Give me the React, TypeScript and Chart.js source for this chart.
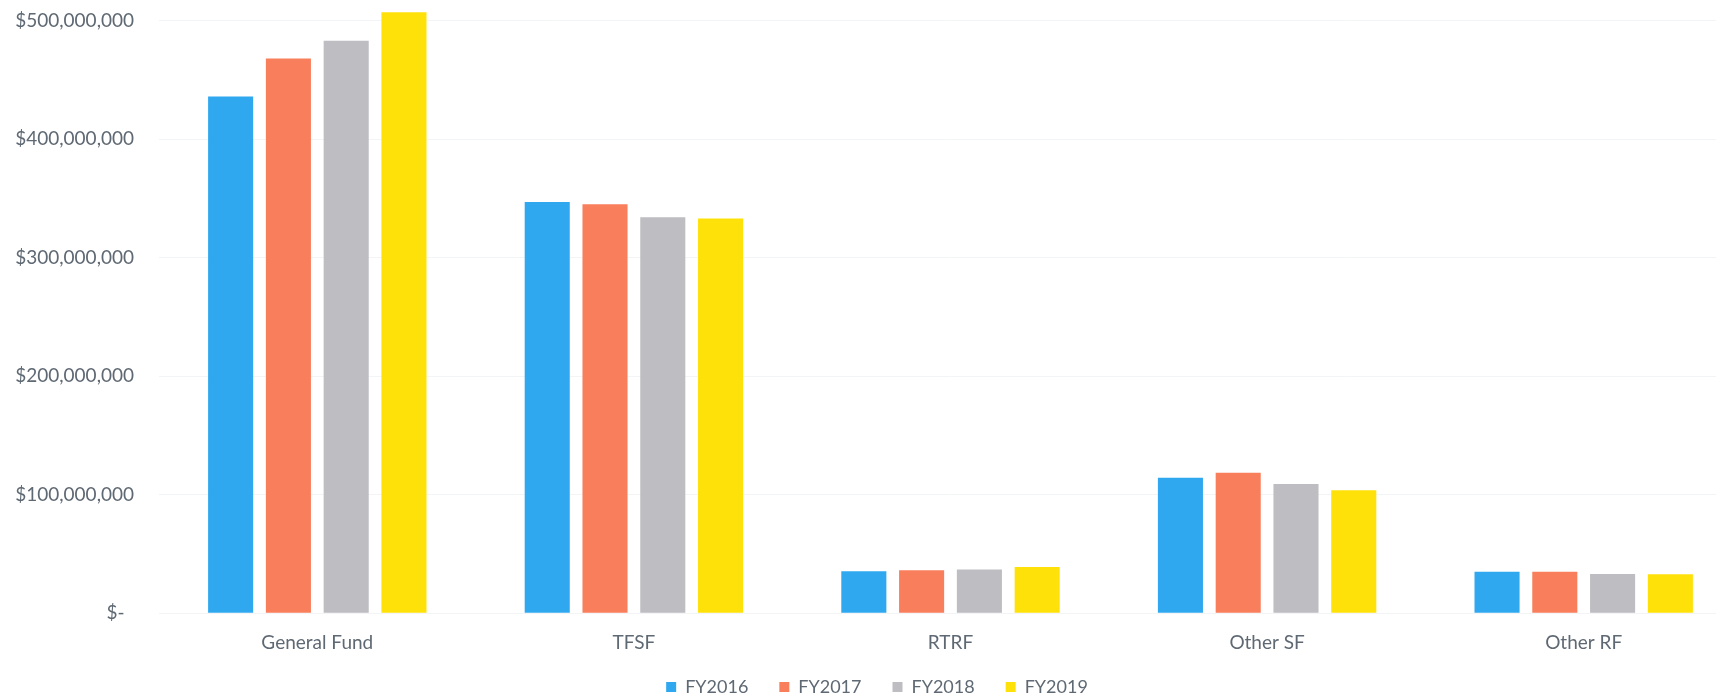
import React, { useEffect, useRef } from "react";
import { Chart, registerables } from "chart.js";

Chart.register(...registerables);

const categories = ["General Fund", "TFSF", "RTRF", "Other SF", "Other RF"];
const seriesNames = ["FY2016", "FY2017", "FY2018", "FY2019"];
const fy2016 = [436000000, 347000000, 35400000, 114200000, 34900000];
const fy2017 = [468000000, 345000000, 36300000, 118400000, 34900000];
const fy2018 = [483000000, 334000000, 36900000, 108900000, 33000000];
const fy2019 = [507000000, 333000000, 39000000, 103800000, 32900000];
const seriesColors = ["#2fa8f0", "#f97f5c", "#bdbdc2", "#ffe10a"];
const yTickMax = 600000000;
const yTickStep = 100000000;

const TEXT = "#5f6973";
const FONT = "Lato";

function fmt(v: number): string {
  if (v === 0) return "$-\u2002";
  return "$" + v.toLocaleString("en-US");
}

const legendShift = {
  id: "legendShift",
  afterLayout(chart: any) {
    const lg = chart.legend;
    if (!lg) return;
    lg.left += 6;
    lg.right += 6;
    lg.top -= 25;
    lg.bottom -= 25;
  },
};

export default function App() {
  const ref = useRef<HTMLCanvasElement | null>(null);

  useEffect(() => {
    document.body.style.margin = "0";
    const canvas = ref.current;
    if (!canvas) return;
    const allSeries = [fy2016, fy2017, fy2018, fy2019];
    const chart = new Chart(canvas, {
      type: "bar",
      data: {
        labels: categories,
        datasets: allSeries.map((d, i) => ({
          label: seriesNames[i],
          data: d,
          backgroundColor: seriesColors[i],
          borderWidth: 0,
          categoryPercentage: 0.73,
          barPercentage: 0.78,
        })),
      },
      plugins: [legendShift],
      options: {
        responsive: false,
        animation: false,
        maintainAspectRatio: false,
        layout: { padding: { left: 0, right: 0, top: 0, bottom: 4 } },
        plugins: {
          tooltip: { enabled: false },
          legend: {
            position: "bottom",
            labels: {
              boxWidth: 10,
              boxHeight: 10,
              padding: 31,
              color: TEXT,
              font: { family: FONT, size: 18 },
            },
          },
        },
        scales: {
          x: {
            grid: { display: false, drawTicks: false },
            border: { display: false },
            ticks: {
              color: TEXT,
              padding: 18,
              font: { family: FONT, size: 19 },
            },
          },
          y: {
            min: 0,
            max: yTickMax,
            grid: { color: "#f3f4f5", drawTicks: false },
            border: { display: false },
            ticks: {
              stepSize: yTickStep,
              color: TEXT,
              padding: 25,
              font: { family: FONT, size: 19 },
              callback: (v: any) => fmt(Number(v)),
            },
            afterFit: (scale: any) => {
              scale.width = 159;
              scale.paddingTop = 0;
              scale.paddingBottom = 0;
            },
          },
        },
      },
    });
    return () => chart.destroy();
  }, []);

  return (
    <div style={{ position: "relative", width: 1716, height: 700, overflow: "hidden", background: "#fff" }}>
      <div style={{ position: "absolute", left: 0, top: -98, width: 1742, height: 833 }}>
        <canvas ref={ref} width={1742} height={833} style={{ display: "block" }} />
      </div>
    </div>
  );
}
